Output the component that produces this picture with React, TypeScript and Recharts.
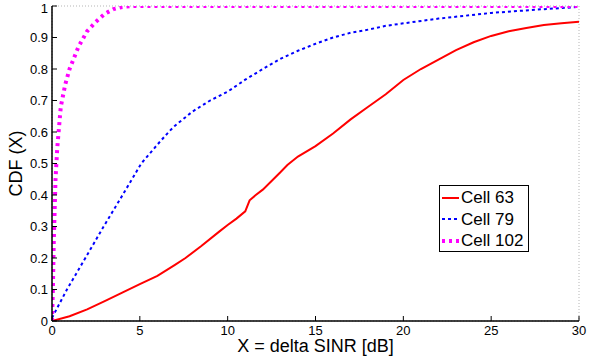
import React from "react";
import {
  LineChart,
  Line,
  XAxis,
  YAxis,
  CartesianGrid,
} from "recharts";

// Cell 63
const cell63X = [0, 1, 2, 3, 4, 5, 6, 7, 7.6, 8.5, 9.5, 10, 10.5, 11, 11.25, 11.6, 12, 13, 13.4, 14, 15, 16, 17, 18, 19, 20, 21, 22, 23, 24, 25, 26, 27, 28, 29, 30];
const cell63Y = [0, 0.015, 0.037, 0.063, 0.09, 0.117, 0.143, 0.178, 0.2, 0.238, 0.283, 0.305, 0.325, 0.348, 0.383, 0.4, 0.417, 0.472, 0.495, 0.522, 0.555, 0.595, 0.64, 0.68, 0.72, 0.765, 0.8, 0.83, 0.86, 0.885, 0.905, 0.92, 0.93, 0.94, 0.945, 0.95];

// Cell 79
const cell79X = [0, 0.85, 1.9, 2.94, 4.02, 5.08, 6, 6.64, 7, 8, 9, 10, 11, 12, 13, 14, 15, 16, 17, 18, 19, 20, 22, 25, 28, 30];
const cell79Y = [0.01, 0.1, 0.2, 0.3, 0.4, 0.5, 0.56, 0.6, 0.62, 0.665, 0.7, 0.728, 0.766, 0.8, 0.832, 0.858, 0.88, 0.9, 0.915, 0.925, 0.937, 0.945, 0.96, 0.978, 0.99, 0.997];

// Cell 102
const cell102X = [0, 0.05, 0.1, 0.2, 0.3, 0.5, 0.75, 1, 1.5, 2, 2.5, 3, 3.5, 4, 4.5, 30];
const cell102Y = [0, 0.1, 0.25, 0.45, 0.55, 0.68, 0.75, 0.8, 0.87, 0.92, 0.95, 0.975, 0.99, 0.997, 1, 1];

const xTicks = [0, 5, 10, 15, 20, 25, 30];
const yTicks = [0, 0.1, 0.2, 0.3, 0.4, 0.5, 0.6, 0.7, 0.8, 0.9, 1];

const toPoints = (xs: number[], ys: number[]) => xs.map((x, i) => ({ x, y: ys[i] }));

const series = [
  { name: "Cell 63", data: toPoints(cell63X, cell63Y), color: "#ff0000", width: 2, dash: undefined as string | undefined },
  { name: "Cell 79", data: toPoints(cell79X, cell79Y), color: "#0000ff", width: 2, dash: "3 3" },
  { name: "Cell 102", data: toPoints(cell102X, cell102Y), color: "#ff00ff", width: 4, dash: "3 4" },
];

const FONT = "'Liberation Sans', Arial, sans-serif";
const tickStyle = { fill: "#000", fontSize: 13, fontFamily: FONT };

const LegendBox = () => (
  <div
    style={{
      position: "absolute",
      left: 439,
      top: 185,
      width: 90,
      height: 67,
      boxSizing: "border-box",
      border: "1.5px solid #000",
      background: "#fff",
      padding: "1px 0 0 2px",
      fontFamily: FONT,
      fontSize: 17,
      lineHeight: "21.5px",
    }}
  >
    {series.map((s) => (
      <div key={s.name} style={{ display: "flex", alignItems: "center" }}>
        <svg width={17} height={10} style={{ marginRight: 2 }}>
          <line x1={0} y1={5} x2={17} y2={5} stroke={s.color} strokeWidth={s.width} strokeDasharray={s.dash} />
        </svg>
        <span>{s.name}</span>
      </div>
    ))}
  </div>
);

export default function App() {
  return (
    <div style={{ position: "absolute", left: 0, top: 0, width: 612, height: 360, background: "#fff" }}>
      <LineChart width={612} height={360} margin={{ top: 6, right: 33, left: 0, bottom: 0 }}>
        <CartesianGrid stroke="#b5b5b5" strokeDasharray="1 2" />
        <XAxis
          xAxisId="b"
          type="number"
          dataKey="x"
          domain={[0, 30]}
          ticks={xTicks}
          allowDataOverflow
          tick={tickStyle}
          tickSize={-5}
          tickMargin={10}
          axisLine={{ stroke: "#000", strokeWidth: 1.5 }}
          tickLine={{ stroke: "#000" }}
          height={39}
          label={{ value: "X = delta SINR [dB]", position: "insideBottom", offset: 8, fill: "#000", fontSize: 18, fontFamily: FONT }}
        />
        <XAxis
          xAxisId="t"
          orientation="top"
          type="number"
          dataKey="x"
          domain={[0, 30]}
          ticks={xTicks}
          tick={false}
          tickSize={-5}
          axisLine={{ stroke: "#000", strokeWidth: 1.5 }}
          tickLine={{ stroke: "#000" }}
          height={0}
        />
        <YAxis
          yAxisId="l"
          type="number"
          domain={[0, 1]}
          ticks={yTicks}
          allowDataOverflow
          tick={tickStyle}
          tickFormatter={(v: number) => String(Math.round(v * 10) / 10)}
          tickSize={-5}
          tickMargin={9}
          axisLine={{ stroke: "#000", strokeWidth: 1.5 }}
          tickLine={{ stroke: "#000" }}
          width={52}
          label={{ value: "CDF (X)", angle: -90, position: "insideLeft", offset: 16, fill: "#000", fontSize: 18, fontFamily: FONT, style: { textAnchor: "middle" } }}
        />
        <YAxis
          yAxisId="r"
          orientation="right"
          type="number"
          domain={[0, 1]}
          ticks={yTicks}
          tick={false}
          tickSize={-5}
          axisLine={{ stroke: "#000", strokeWidth: 1.5 }}
          tickLine={{ stroke: "#000" }}
          width={0}
        />
        {series.map((s) => (
          <Line
            key={s.name}
            xAxisId="b"
            yAxisId="l"
            data={s.data}
            dataKey="y"
            name={s.name}
            type="linear"
            stroke={s.color}
            strokeWidth={s.width}
            strokeDasharray={s.dash}
            dot={false}
            activeDot={false}
            isAnimationActive={false}
          />
        ))}
      </LineChart>
      <LegendBox />
    </div>
  );
}
